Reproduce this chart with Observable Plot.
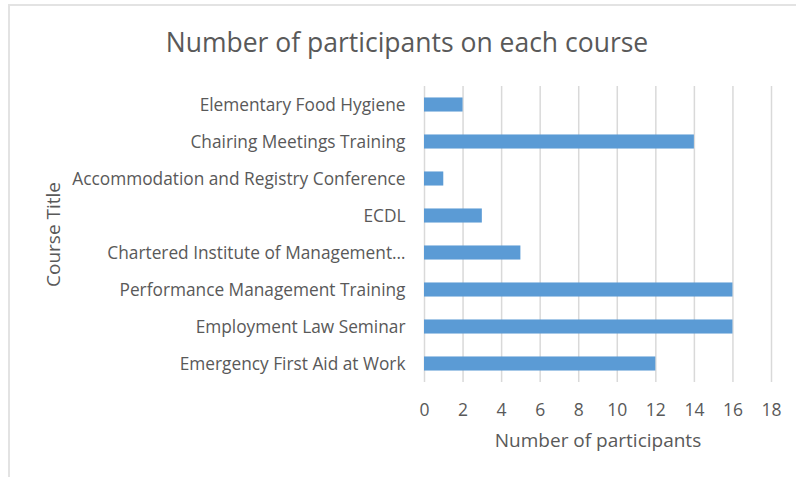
<!DOCTYPE html>
<html>
<head>
<meta charset="utf-8">
<script src="https://cdn.jsdelivr.net/npm/d3@7"></script>
<script src="https://cdn.jsdelivr.net/npm/@observablehq/plot@0.6"></script>
<style>
  html, body { margin: 0; padding: 0; background: #fff; }
  body { width: 796px; height: 477px; position: relative; overflow: hidden; font-family: "Open Sans", sans-serif; }
  #frame { position: absolute; left: 8px; top: 4px; width: 790px; height: 480px; border-top: 2px solid #e3e3e3; border-left: 2px solid #e3e3e3; box-sizing: border-box; }
  #title { position: absolute; left: 0; top: 0; width: 814px; height: 70px; text-align: center; font-size: 26.5px; color: #595959; line-height: 84px; }
  #chart { position: absolute; left: 0; top: 70px; }
</style>
</head>
<body>
<div id="frame"></div>
<div id="title">Number of participants on each course</div>
<div id="chart"></div>
<script>
const courses = [
  "Elementary Food Hygiene",
  "Chairing Meetings Training",
  "Accommodation and Registry Conference",
  "ECDL",
  "Chartered Institute of Management…",
  "Performance Management Training",
  "Employment Law Seminar",
  "Emergency First Aid at Work"
];
const participants = [2, 14, 1, 3, 5, 16, 16, 12];
const xTicks = [0, 2, 4, 6, 8, 10, 12, 14, 16, 18];

const data = courses.map((c, i) => ({course: c, value: participants[i]}));

const chart = Plot.plot({
  width: 796,
  height: 407,
  marginTop: 16,
  marginBottom: 95,
  marginLeft: 424,
  marginRight: 25,
  style: {fontFamily: "Open Sans, sans-serif", color: "#595959", background: "transparent"},
  x: {domain: [0, 18], ticks: xTicks},
  y: {domain: courses, paddingInner: 0.62, paddingOuter: 0.31, round: false},
  marks: [
    Plot.gridX(xTicks, {stroke: "#d9d9d9", strokeOpacity: 1, strokeWidth: 1.5}),
    Plot.barX(data, {x: "value", y: "course", fill: "#5b9bd5"}),
    Plot.axisX({ticks: xTicks, tickSize: 0, tickPadding: 21, fontSize: 17.5, fill: "#595959",
      label: "Number of participants", labelAnchor: "center", labelArrow: "none", labelOffset: 64}),
    Plot.axisY({tickSize: 0, tickPadding: 19, fontSize: 17.3, fill: "#595959",
      label: "Course Title", labelAnchor: "center", labelArrow: "none", labelOffset: 378})
  ]
});
chart.querySelectorAll('g[aria-label="x-axis label"] text, g[aria-label="y-axis label"] text').forEach(t => {
  t.setAttribute("font-size", "19");
});
document.getElementById("chart").appendChild(chart);
</script>
</body>
</html>
